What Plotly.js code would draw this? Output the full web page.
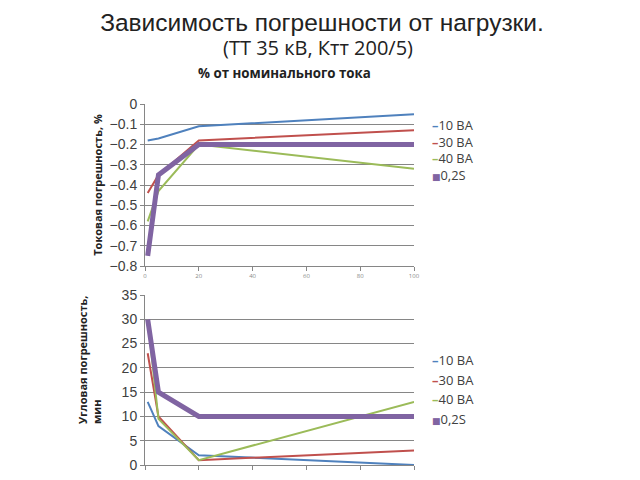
<!DOCTYPE html>
<html><head><meta charset="utf-8">
<script src="https://cdn.plot.ly/plotly-3.0.1.min.js"></script>
<style>body{margin:0;background:#fff}#c{width:640px;height:480px}</style>
</head><body><div id="c"></div>
<script>
const loadPct = [1, 5, 20, 100];
const seriesNames = ['10 ВА', '30 ВА', '40 ВА', '0,2S'];
const colors = ['#4F81BD', '#C0504D', '#9BBB59', '#8064A2'];
const widths = [2, 2, 2, 5];
const currentErr10 = [-0.18, -0.17, -0.11, -0.05];
const currentErr30 = [-0.44, -0.35, -0.18, -0.13];
const currentErr40 = [-0.58, -0.43, -0.20, -0.32];
const currentErr02S = [-0.75, -0.35, -0.20, -0.20];
const angleErr10 = [13, 8, 2, 0];
const angleErr30 = [23, 10, 1, 3];
const angleErr40 = [30, 9.5, 1, 13];
const angleErr02S = [30, 15, 10, 10];

const topSets = [currentErr10, currentErr30, currentErr40, currentErr02S];
const botSets = [angleErr10, angleErr30, angleErr40, angleErr02S];
const traces = [];
topSets.forEach((y, i) => traces.push({x: loadPct, y: y, type: 'scatter', mode: 'lines', name: seriesNames[i],
  line: {color: colors[i], width: widths[i]}, xaxis: 'x', yaxis: 'y', showlegend: false}));
botSets.forEach((y, i) => traces.push({x: loadPct, y: y, type: 'scatter', mode: 'lines', name: seriesNames[i],
  line: {color: colors[i], width: widths[i]}, xaxis: 'x2', yaxis: 'y2', showlegend: false}));

const font = 'Open Sans, DejaVu Sans, sans-serif';
const annotations = [];
function legendLine(i) {
  const sym = i === 3 ? '<span style="font-size:9px">■</span>' : '<b>–</b>';
  return '<span style="color:' + colors[i] + '">' + sym + '</span>' + seriesNames[i];
}
// top legend: one block, line spacing from font
annotations.push({xref: 'paper', yref: 'paper', x: 430/640, y: 1 - 150/480, xanchor: 'left', yanchor: 'middle',
  align: 'left', showarrow: false, text: seriesNames.map((n, i) => legendLine(i)).join('<br>'),
  font: {family: font, size: 12.8, color: '#404040'}});
// bottom legend: separate items
seriesNames.forEach((n, i) => annotations.push({xref: 'paper', yref: 'paper', x: 430/640, y: 1 - (360 + i*19.7)/480,
  xanchor: 'left', yanchor: 'middle', align: 'left', showarrow: false, text: legendLine(i),
  font: {family: font, size: 13, color: '#404040'}}));
annotations.push({xref: 'paper', yref: 'paper', x: 284/640, y: 1 - 73/480, yanchor: 'middle', showarrow: false,
  text: '<b>% от номинального тока</b>', font: {family: font, size: 13.3, color: '#222'}});
annotations.push({xref: 'paper', yref: 'paper', x: 318/640, y: 1 - 48/480, yanchor: 'middle', showarrow: false,
  text: '(ТТ 35 кВ, Ктт 200/5)', font: {family: font, size: 20, color: '#222'}});
annotations.push({xref: 'paper', yref: 'paper', x: 89/640, y: 1 - 360/480, xanchor: 'center', yanchor: 'middle',
  textangle: -90, align: 'left', showarrow: false,
  text: '<b>Угловая погрешность,<br>мин</b>', font: {family: font, size: 11, color: '#222'}});

const gridY = {showgrid: true, gridcolor: '#868686', gridwidth: 1, zeroline: false, showline: true, linecolor: '#868686',
  ticks: 'outside', ticklen: 4, tickcolor: '#868686', tickfont: {family: 'Liberation Sans, Arial', size: 14, color: '#404040'}};
const layout = {
  width: 640, height: 480, margin: {l: 0, r: 0, t: 0, b: 0}, paper_bgcolor: '#fff', plot_bgcolor: '#fff',
  title: {text: 'Зависимость погрешности от нагрузки.', x: 322/640, xanchor: 'center', y: 1 - 22/480, yanchor: 'middle',
    font: {family: 'Liberation Sans, Arial', size: 24.5, color: '#222'}},
  xaxis: {domain: [145/640, 414/640], range: [0, 100], tickvals: [0, 20, 40, 60, 80, 100], showgrid: false, zeroline: false,
    showline: true, linecolor: '#868686', ticks: 'outside', ticklen: 4, tickcolor: '#868686',
    tickfont: {size: 6, color: '#888'}, anchor: 'y'},
  yaxis: Object.assign({}, gridY, {domain: [1 - 266/480, 1 - 104/480], range: [-0.8, 0], dtick: 0.1, tickformat: '.1~f',
    title: {text: '<b>Токовая погрешность, %</b>', standoff: 4, font: {family: font, size: 11, color: '#222'}}}),
  xaxis2: {domain: [145/640, 414/640], range: [0, 100], tickvals: [0, 20, 40, 60, 80, 100], showgrid: false, zeroline: false,
    showline: true, linecolor: '#868686', ticks: 'outside', ticklen: 4, tickcolor: '#868686', showticklabels: false, anchor: 'y2'},
  yaxis2: Object.assign({}, gridY, {domain: [1 - 465/480, 1 - 295/480], range: [0, 35], dtick: 5, anchor: 'x2'}),
  annotations: annotations, showlegend: false
};
Plotly.newPlot('c', traces, layout, {displayModeBar: false, staticPlot: true});
</script></body></html>
